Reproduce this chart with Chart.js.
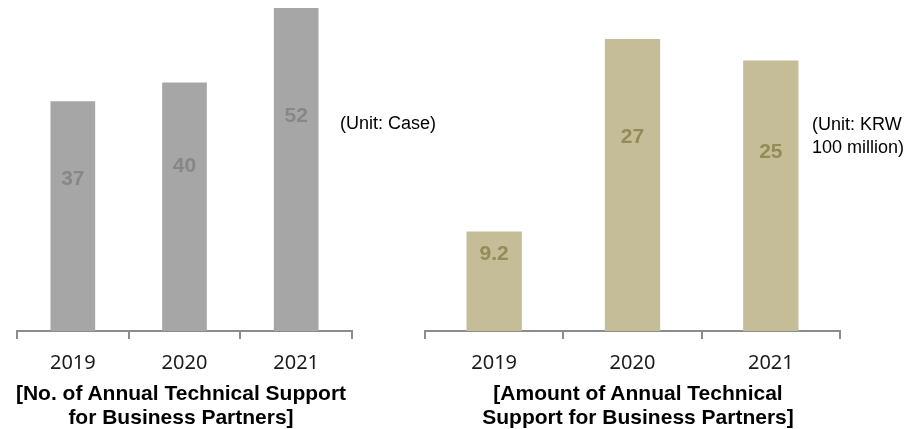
<!DOCTYPE html>
<html>
<head>
<meta charset="utf-8">
<script src="https://cdn.jsdelivr.net/npm/chart.js@4"></script>
<style>
  html, body { margin: 0; padding: 0; background: #ffffff; }
  #wrap { position: relative; width: 906px; height: 429px; overflow: hidden; }
  canvas { position: absolute; top: 0; }
  .txt { position: absolute; font-family: "Liberation Sans", Arial, sans-serif; color: #000; white-space: nowrap; }
  .title { font-weight: bold; font-size: 21px; line-height: 24px; text-align: center; transform: translateX(-50%); }
  .unit { font-size: 18px; line-height: 23px; }
</style>
</head>
<body>
<div id="wrap">
  <canvas id="c1" width="420" height="429" style="left:0px"></canvas>
  <canvas id="c2" width="486" height="429" style="left:420px"></canvas>
  <div class="txt unit" style="left:340px; top:112px;">(Unit: Case)</div>
  <div class="txt unit" style="left:812px; top:113px;">(Unit: KRW<br>100 million)</div>
  <div class="txt title" style="left:181px; top:381px;">[No. of Annual Technical Support<br>for Business Partners]</div>
  <div class="txt title" style="left:638px; top:381px;">[Amount of Annual Technical<br>Support for Business Partners]</div>
</div>
<script>
const categories = ["2019", "2020", "2021"];
const techSupportCount = [37, 40, 52];
const techSupportAmount = [9.2, 27, 25];
const countLabels = ["37", "40", "52"];
const amountLabels = ["9.2", "27", "25"];

const valueLabelPlugin = {
  id: 'valueLabels',
  afterDatasetsDraw(chart, args, opts) {
    const ctx = chart.ctx;
    const meta = chart.getDatasetMeta(0);
    ctx.save();
    ctx.font = 'bold 21px "Liberation Sans", Arial, sans-serif';
    ctx.fillStyle = opts.color;
    ctx.textAlign = 'center';
    ctx.textBaseline = 'middle';
    meta.data.forEach((bar, i) => {
      const h = bar.base - bar.y;
      let y = bar.base - h * 0.67;
      if (h < 150) y = bar.y + 21;
      ctx.fillText(opts.labels[i], bar.x, y + 2);
    });
    ctx.restore();
  }
};

function makeChart(id, values, labels, barColor, labelColor, yMax, padLeft, padRight) {
  return new Chart(document.getElementById(id), {
    type: 'bar',
    data: {
      labels: categories,
      datasets: [{
        data: values,
        backgroundColor: barColor,
        borderWidth: 0,
        categoryPercentage: 1.0,
        barPercentage: 0.4
      }]
    },
    options: {
      responsive: false,
      animation: false,
      devicePixelRatio: 1,
      layout: { padding: { left: padLeft, right: padRight, top: 0, bottom: 0 } },
      plugins: {
        legend: { display: false },
        tooltip: { enabled: false },
        valueLabels: { labels: labels, color: labelColor }
      },
      scales: {
        x: {
          offset: true,
          grid: { display: true, offset: true, drawOnChartArea: false, drawTicks: true, tickLength: 8, color: '#8c8c8c', lineWidth: 2 },
          border: { display: true, color: '#8c8c8c', width: 2 },
          ticks: { color: '#1a1a1a', padding: 12, font: { family: '"Noto Sans", "Open Sans", sans-serif', size: 20 } },
          afterFit(scale) { scale.height = 98; }
        },
        y: { display: false, min: 0, max: yMax }
      }
    },
    plugins: [valueLabelPlugin]
  });
}

makeChart('c1', techSupportCount, countLabels, '#a6a6a6', '#878787', 53.3, 17, 68);
makeChart('c2', techSupportAmount, amountLabels, '#c4bd97', '#948b58', 30.6, 5, 66);
</script>
</body>
</html>
